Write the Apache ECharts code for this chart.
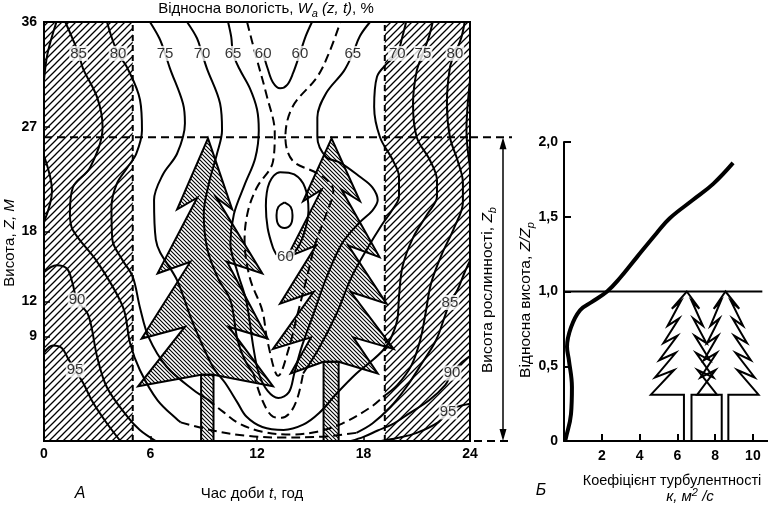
<!DOCTYPE html>
<html>
<head>
<meta charset="utf-8">
<script src="https://cdn.jsdelivr.net/npm/echarts@6/dist/echarts.min.js"></script>
<style>
  html, body { margin: 0; padding: 0; background: #fff; }
  #chart { width: 768px; height: 506px; }
</style>
</head>
<body>
<div id="chart"></div>
<script>
// Panel A: relative humidity isolines, [hour, height m]
const iso95L = [[0,7.6],[0.5,8.2],[1.0,8.0],[1.35,7.1],[1.75,6.1],[2.2,5.0],[2.76,3.3],[3.55,1.5],[4.3,0]];
const iso90L = [[0,14.5],[0.7,15.1],[1.3,14.8],[1.6,13.6],[1.86,12.1],[2.5,10.8],[3.0,7.2],[3.55,4.6],[4.7,2.1],[5.4,0.95],[6.3,0]];
const iso90Top = [[0.7,36],[0.2,33.3],[0,31]];
const iso90Edge = [[0,24.5],[0.45,21.5],[0,18.8]];
const iso85L = [[1.2,36],[1.6,34.6],[1.95,33.3],[2.2,32.0],[3.0,29.5],[3.3,27.0],[2.6,23.5],[1.63,21.8],[1.46,19.5],[1.63,18.1],[3.04,15.3],[4.45,11.5],[4.85,8.4],[5.4,6.1],[6.4,3.5],[7.7,1.6]];
const iso85Low = [[7.7,1.6],[9.5,0.9],[11.4,0.45],[13.3,0.3],[15.4,0.35],[17.6,0.7]];
const iso85R = [[17.6,0.7],[18.5,1.5],[19.5,2.9],[20.4,4.6],[21.3,6.7],[22.1,8.7],[22.6,10.8],[22.87,11.9],[23.3,13.0],[23.7,14.5],[24,15.5]];
const iso85Edge = [[24,31],[23.85,28.5],[23.8,26.7],[24,23.5]];
const iso80L = [[3.55,36],[3.83,34.6],[4.17,33.3],[4.68,32.1],[5.41,29.3],[5.52,26.7],[5.2,24.7],[4.7,23.5],[4.1,22.1],[3.8,20.1],[3.85,17.3],[4.4,15.6],[5.0,14.1],[5.4,11.5],[5.9,8.9],[6.9,6.4],[8.4,4.4],[9.2,3.6]];
const iso80Low = [[9.2,3.6],[10.1,2.5],[11.0,1.5],[12.3,0.8],[13.9,0.55],[15.4,0.8],[16.8,1.5],[18.4,2.9],[19.1,3.8]];
const iso80R = [[19.1,3.8],[19.9,4.8],[20.7,6.5],[21.2,8.7],[21.5,11],[21.8,13.5],[22.4,16],[23.1,18.3],[23.6,20.5],[23.6,22.2],[23.3,24.1],[22.87,26.1],[22.7,29],[22.87,32.1],[23.15,33.3],[23.5,34.6],[23.7,36]];
const iso75 = [[5.97,36],[6.5,34.6],[6.82,33.3],[7.1,32.0],[7.83,29.0],[7.94,27.3],[7.5,24.7],[6.7,22.9],[6.2,20.7],[6.3,17.3],[7.5,13.8],[8.4,10.1],[9.5,6.4],[10.2,5.0],[10.9,3.3],[11.4,2.1],[12.3,1.2],[13.5,0.95],[14.6,1.4],[15.5,2.4],[16.5,4.1],[17.6,5.8],[18.4,6.8],[19.1,7.8],[19.5,8.7],[19.9,10.4],[20.0,12.4],[20.2,15],[20.8,17.5],[21.6,19.5],[22.14,21],[22.14,22.4],[21.75,24.1],[21.0,26.1],[20.79,29],[21.0,31.8],[21.35,33.3],[21.7,34.8],[21.9,36]];
const iso70L = [[8.06,36],[8.62,34.6],[8.9,33.3],[9.18,32.0],[9.92,29.0],[10.03,26.7],[9.75,24.7],[9.3,22.2],[9.0,19.5],[9.2,16.5],[9.8,14],[10.5,12.1],[10.9,8.7],[11.3,7.0],[11.8,5.8]];
const iso70Low = [[11.8,5.8],[12.3,3.5],[12.9,2.1],[13.4,2.0],[13.9,2.5],[14.3,3.8],[14.6,5.8]];
const iso70R = [[14.6,5.8],[15.5,8],[16.5,11],[17.3,14],[18.2,16.5],[19.0,18.5],[19.6,19.8],[20.0,21.0],[20.0,22.7],[19.66,24.1],[18.93,26.1],[18.6,28.7],[18.76,31.3],[19.3,32.4],[19.9,33.3],[20.2,34.8],[20.4,36]];
const iso65 = [[10.37,36],[10.55,34.7],[10.65,33.3],[11.0,32.0],[11.6,30.3],[12.0,28.5],[12.1,26.7],[11.9,24.3],[11.3,22.0],[10.7,19.5],[10.5,17],[10.9,14.5],[11.4,12],[11.8,8],[12.1,5.8],[12.6,4.3],[13.2,3.7],[13.8,4.2],[14.1,5.8],[14.5,8],[15.2,11],[15.9,14],[16.8,17],[17.8,18.8],[18.5,19.8],[18.8,20.7],[18.5,21.8],[17.8,22.7],[16.7,23.9],[15.9,24.4],[15.4,26.1],[15.4,27.8],[15.9,29.9],[16.9,31.8],[17.4,33.3],[17.8,34.8],[18.37,36]];
const isoMidDash = [[11.44,36],[11.9,33.3],[12.56,29.6],[13.0,26.5],[12.9,24.0],[12.0,21.8],[11.5,19.8],[11.3,17.3],[11.6,14],[12.3,11.2],[12.6,8.5],[13.2,5.6],[13.8,8],[14.3,11],[14.8,14],[15.3,17],[15.9,19.5],[16.3,21.5],[16.1,22.2],[15.4,23.0],[14.0,24.1],[13.6,26.1],[14.0,28.7],[15.4,31.3],[16.1,33.5],[16.7,36]];
const iso60Top = [[12.35,33.3],[12.6,32.0],[12.9,30.8],[13.3,30.3],[13.7,30.6],[14.03,31.6],[14.42,33.3],[14.75,34.8],[15.1,36]];
const iso60Loop = [[13.6,15.8],[14.1,16.2],[14.6,17.6],[14.9,19.8],[14.7,21.8],[14.1,22.9],[13.3,23.1],[12.7,22.2],[12.5,20.2],[12.6,18.3],[12.9,16.6],[13.1,16.0]];
const isoCore = [[13.55,20.5],[13.9,20.1],[14.0,19.4],[13.9,18.6],[13.55,18.3],[13.2,18.6],[13.1,19.4],[13.2,20.1],[13.55,20.5]];
const iso90R = [[24,7.3],[23.5,6.7],[22.99,5.84],[22.6,4.8],[21.7,3.5],[20.6,2.4],[19.7,1.5],[18.8,0.9],[18.0,0.35],[17.3,0]];
const iso95R = [[24,3.2],[23.2,2.9],[22.76,2.5],[22.2,1.6],[21.0,0.7],[19.9,0.25],[19.0,0]];

const isoLabels = [
  [1.95,33.3,'85'],[4.17,33.3,'80'],[6.82,33.3,'75'],[8.9,33.3,'70'],[10.65,33.3,'65'],
  [12.35,33.3,'60'],[14.42,33.3,'60'],[17.4,33.3,'65'],[19.9,33.3,'70'],[21.35,33.3,'75'],
  [23.15,33.3,'80'],[13.6,15.8,'60'],[1.86,12.1,'90'],[1.75,6.1,'95'],
  [22.87,11.9,'85'],[22.99,5.84,'90'],[22.76,2.5,'95']
];

// night hours (hatched), canopy top, hour ticks
const nightBands = [[0, 5], [19.2, 24]];
const canopyTop = 26.1;
const hourTicks = [0, 6, 12, 18, 24];
const heightTicks = [9, 12, 18, 27, 36];

// spruce silhouettes, [left, right, height] per tier
const forestTrees = [
  { c: 9.24, top: 26.0, trunk: [8.85, 9.55], tiers: [[7.5,10.6,19.9],[6.4,12.3,14.4],[5.5,12.6,8.8],[5.3,12.9,4.7]] },
  { c: 16.2, top: 26.0, trunk: [15.75, 16.6], tiers: [[14.6,17.8,20.6],[13.7,18.9,15.8],[13.3,19.3,11.8],[12.9,19.7,7.9],[13.9,18.8,5.8]] }
];

// Panel B: turbulence coefficient k (m2/s) vs Z/Zp
const kProfile = [[0.05,0],[0.1,0.02],[0.37,0.18],[0.42,0.36],[0.26,0.54],[0.16,0.63],[0.37,0.76],[0.85,0.875],[1.48,0.93],[2.28,1.0],[2.96,1.09],[3.86,1.23],[4.9,1.39],[5.6,1.49],[6.8,1.61],[7.9,1.72],[8.95,1.86]];
const canopyLine = [[0,1],[10.5,1]];
const kTicks = [2, 4, 6, 8, 10];
const outlineTrees = [
  { c: 6.5, top: 1.0, base: 0.31, wl: 1.9, wr: 1.6, trunk: [6.35, 6.75] },
  { c: 8.55, top: 1.0, base: 0.31, wl: 1.5, wr: 1.75, trunk: [8.35, 8.7] }
];

const FONT = "'Liberation Sans',Arial,sans-serif";

function hatch(size, up, lw) {
  const c = document.createElement('canvas');
  c.width = c.height = size;
  const g = c.getContext('2d');
  g.strokeStyle = '#000';
  g.lineWidth = lw;
  g.beginPath();
  if (up) {
    g.moveTo(0, size); g.lineTo(size, 0);
    g.moveTo(-1, 1); g.lineTo(1, -1);
    g.moveTo(size - 1, size + 1); g.lineTo(size + 1, size - 1);
  } else {
    g.moveTo(0, 0); g.lineTo(size, size);
    g.moveTo(-1, size - 1); g.lineTo(1, size + 1);
    g.moveTo(size - 1, -1); g.lineTo(size + 1, 1);
  }
  g.stroke();
  return { image: c, repeat: 'repeat' };
}
const nightFill = hatch(7, true, 1.3);
const treeFill = hatch(4, false, 1.1);

function iso(data, dashed) {
  return {
    type: 'line', xAxisIndex: 0, yAxisIndex: 0, data, symbol: 'none', smooth: 0.35,
    silent: true, z: 4, animation: false,
    lineStyle: { color: '#000', width: 2, type: dashed ? [9, 5] : 'solid' }
  };
}

function crownPoints(t) {
  const n = t.tiers.length;
  const pts = [[t.c, t.top]];
  t.tiers.forEach((tr, i) => {
    pts.push([tr[1], tr[2]]);
    if (i < n - 1) pts.push([t.c + 0.35 * (tr[1] - t.c), tr[2] + 1.0]);
  });
  const zt = t.tiers[n - 1][2] + 1.0;
  pts.push([t.trunk[1], zt], [t.trunk[0], zt]);
  for (let i = n - 1; i >= 0; i--) {
    pts.push([t.tiers[i][0], t.tiers[i][2]]);
    if (i > 0) pts.push([t.c + 0.35 * (t.tiers[i - 1][0] - t.c), t.tiers[i - 1][2] + 1.0]);
  }
  return pts;
}

function outlinePoints(t) {
  const n = 6, h = t.top - t.base;
  const right = [], left = [];
  for (let i = 1; i <= n; i++) {
    const f = i / n, z = t.top - h * f;
    const wr = t.wr * (0.3 + 0.7 * f), wl = t.wl * (0.3 + 0.7 * f);
    right.push([t.c + wr, z]);
    left.push([t.c - wl, z]);
    if (i < n) {
      right.push([t.c + wr * 0.4, z + 0.05]);
      left.push([t.c - wl * 0.4, z + 0.05]);
    }
  }
  const pts = [[t.c, t.top]].concat(right);
  pts.push([t.trunk[1], t.base], [t.trunk[1], 0], [t.trunk[0], 0], [t.trunk[0], t.base]);
  return pts.concat(left.reverse());
}

const chart = echarts.init(document.getElementById('chart'));

const axisText = { color: '#000', fontFamily: FONT, fontSize: 14, fontWeight: 'bold' };

const option = {
  animation: false,
  backgroundColor: '#fff',
  grid: [
    { left: 44, top: 22, width: 426, height: 419, show: true, borderColor: '#000', borderWidth: 2 },
    { left: 564, top: 142, width: 204, height: 299 }
  ],
  xAxis: [
    {
      type: 'value', gridIndex: 0, min: 0, max: 24, interval: 6,
      axisLine: { lineStyle: { color: '#000', width: 2 } },
      axisTick: { inside: true, length: 5, lineStyle: { color: '#000', width: 1.5 }, customValues: hourTicks },
      axisLabel: Object.assign({ margin: 6, customValues: hourTicks }, axisText),
      splitLine: { show: false }
    },
    {
      type: 'value', gridIndex: 1, min: 0, max: 10.8,
      axisLine: { lineStyle: { color: '#000', width: 2 } },
      axisTick: { inside: true, length: 7, lineStyle: { color: '#000', width: 2 }, customValues: kTicks },
      axisLabel: Object.assign({ margin: 8, customValues: kTicks }, axisText),
      splitLine: { show: false }
    }
  ],
  yAxis: [
    {
      type: 'value', gridIndex: 0, min: 0, max: 36, interval: 3,
      axisLine: { lineStyle: { color: '#000', width: 2 } },
      axisTick: { inside: true, length: 6, lineStyle: { color: '#000', width: 1.5 }, customValues: heightTicks },
      axisLabel: Object.assign({ margin: 7, customValues: heightTicks }, axisText),
      splitLine: { show: false }
    },
    {
      type: 'value', gridIndex: 1, min: 0, max: 2, interval: 0.5,
      axisLine: { lineStyle: { color: '#000', width: 2 } },
      axisTick: { inside: true, length: 7, lineStyle: { color: '#000', width: 2 } },
      axisLabel: Object.assign({
        margin: 6,
        formatter: v => v === 0 ? '0' : v.toFixed(1).replace('.', ',')
      }, axisText),
      splitLine: { show: false }
    }
  ],
  series: [
    {
      type: 'custom', xAxisIndex: 0, yAxisIndex: 0, data: nightBands, z: 1, silent: true,
      renderItem(params, api) {
        const a = api.coord([api.value(0), 36]);
        const b = api.coord([api.value(1), 0]);
        return { type: 'rect', shape: { x: a[0], y: a[1], width: b[0] - a[0], height: b[1] - a[1] },
                 style: { fill: nightFill } };
      }
    },
    {
      type: 'line', xAxisIndex: 0, yAxisIndex: 0, symbol: 'none', silent: true, z: 2,
      data: [[nightBands[0][1], 0], [nightBands[0][1], 36]],
      lineStyle: { color: '#000', width: 2, type: [6, 4] }
    },
    {
      type: 'line', xAxisIndex: 0, yAxisIndex: 0, symbol: 'none', silent: true, z: 2,
      data: [[nightBands[1][0], 0], [nightBands[1][0], 36]],
      lineStyle: { color: '#000', width: 2, type: [6, 4] }
    },
    {
      type: 'line', xAxisIndex: 0, yAxisIndex: 0, symbol: 'none', silent: true, z: 2,
      data: [[0, canopyTop], [24, canopyTop]],
      lineStyle: { color: '#000', width: 2, type: [8, 5] }
    },
    {
      type: 'custom', xAxisIndex: 0, yAxisIndex: 0, z: 3, silent: true,
      data: forestTrees.map((t, i) => [t.c, t.top, i]),
      renderItem(params, api) {
        const t = forestTrees[api.value(2)];
        const zt = t.tiers[t.tiers.length - 1][2] + 1.0;
        const a = api.coord([t.trunk[0], zt]);
        const b = api.coord([t.trunk[1], 0]);
        return {
          type: 'group',
          children: [
            { type: 'rect', shape: { x: a[0], y: a[1], width: b[0] - a[0], height: b[1] - a[1] },
              style: { fill: treeFill, stroke: '#000', lineWidth: 2 } },
            { type: 'polygon', shape: { points: crownPoints(t).map(p => api.coord(p)) },
              style: { fill: treeFill, stroke: '#000', lineWidth: 2, lineJoin: 'miter' } }
          ]
        };
      }
    },
    iso(iso95L), iso(iso90L), iso(iso90Top), iso(iso90Edge),
    iso(iso85L), iso(iso85Low, true), iso(iso85R), iso(iso85Edge),
    iso(iso80L), iso(iso80Low, true), iso(iso80R),
    iso(iso75),
    iso(iso70L), iso(iso70Low, true), iso(iso70R),
    iso(iso65), iso(isoMidDash, true), iso(iso60Top), iso(iso60Loop), iso(isoCore),
    iso(iso90R), iso(iso95R),
    {
      type: 'scatter', xAxisIndex: 0, yAxisIndex: 0, data: isoLabels, symbolSize: 1, z: 6, silent: true,
      itemStyle: { color: 'rgba(0,0,0,0)' },
      label: {
        show: true, position: 'inside', formatter: p => p.value[2],
        color: '#000', fontFamily: FONT, fontSize: 15, backgroundColor: '#fff', padding: [0, 1]
      }
    },
    // panel B
    {
      type: 'custom', xAxisIndex: 1, yAxisIndex: 1, z: 3, silent: true,
      data: outlineTrees.map((t, i) => [t.c, t.top, i]),
      renderItem(params, api) {
        const t = outlineTrees[api.value(2)];
        return { type: 'polygon', shape: { points: outlinePoints(t).map(p => api.coord(p)) },
                 style: { fill: 'none', stroke: '#000', lineWidth: 2 } };
      }
    },
    {
      type: 'line', xAxisIndex: 1, yAxisIndex: 1, data: canopyLine, symbol: 'none', silent: true, z: 4,
      lineStyle: { color: '#000', width: 2 }
    },
    {
      type: 'line', xAxisIndex: 1, yAxisIndex: 1, data: kProfile, symbol: 'none', smooth: 0.4, silent: true, z: 5,
      lineStyle: { color: '#000', width: 4 }
    }
  ]
};

chart.setOption(option);

// annotations placed from the axes' own scale
const pTop = chart.convertToPixel({ gridIndex: 0 }, [24, canopyTop]);
const pBot = chart.convertToPixel({ gridIndex: 0 }, [24, 0]);
const ax = 503;
function richFor(size) {
  const small = Math.round(size * 0.7);
  return {
    i: { fontStyle: 'italic', fontSize: size, fontFamily: FONT, fill: '#000' },
    s: { fontStyle: 'italic', fontSize: small, fontFamily: FONT, fill: '#000', padding: [9, 0, 0, 0] },
    p: { fontStyle: 'italic', fontSize: small, fontFamily: FONT, fill: '#000', padding: [0, 0, 8, 0] },
    n: { fontSize: size, fontFamily: FONT, fill: '#000' }
  };
}
function txt(x, y, text, size, rot, extra) {
  return {
    type: 'text', x, y, rotation: rot || 0, silent: true,
    style: Object.assign({
      text, fill: '#000', fontFamily: FONT, fontSize: size,
      align: 'center', verticalAlign: 'middle', rich: richFor(size)
    }, extra || {})
  };
}
chart.setOption({
  graphic: [
    { type: 'line', silent: true, shape: { x1: pTop[0], y1: pTop[1], x2: 512, y2: pTop[1] },
      style: { stroke: '#000', lineWidth: 2, lineDash: [8, 5] } },
    { type: 'line', silent: true, shape: { x1: pBot[0] + 4, y1: pBot[1], x2: 512, y2: pBot[1] },
      style: { stroke: '#000', lineWidth: 2, lineDash: [8, 5] } },
    { type: 'line', silent: true, shape: { x1: ax, y1: pTop[1] + 4, x2: ax, y2: pBot[1] - 4 },
      style: { stroke: '#000', lineWidth: 1.5 } },
    { type: 'polygon', silent: true, shape: { points: [[ax, pTop[1]], [ax - 3.5, pTop[1] + 12], [ax + 3.5, pTop[1] + 12]] },
      style: { fill: '#000' } },
    { type: 'polygon', silent: true, shape: { points: [[ax, pBot[1]], [ax - 3.5, pBot[1] - 12], [ax + 3.5, pBot[1] - 12]] },
      style: { fill: '#000' } },
    txt(266, 9, '{n|Відносна вологість, }{i|W}{s|a}{i| (z, t)}{n|, %}', 15),
    txt(10, 243, '{n|Висота, }{i|Z, М}', 15, Math.PI / 2),
    txt(252, 494, '{n|Час доби }{i|t}{n|, год}', 15),
    txt(80, 494, '{i|А}', 16),
    txt(541, 491, '{i|Б}', 16),
    txt(672, 481, 'Коефіцієнт турбулентності', 14.5),
    txt(690, 497, '{i|к, м}{p|2}{i| /с}', 15),
    txt(526, 300, '{n|Відносна висота, }{i|Z/Z}{s|p}', 15.5, Math.PI / 2),
    txt(488, 290, '{n|Висота рослинності, }{i|Z}{s|b}', 15.5, Math.PI / 2)
  ]
});

window.addEventListener('resize', () => chart.resize());
</script>
</body>
</html>
